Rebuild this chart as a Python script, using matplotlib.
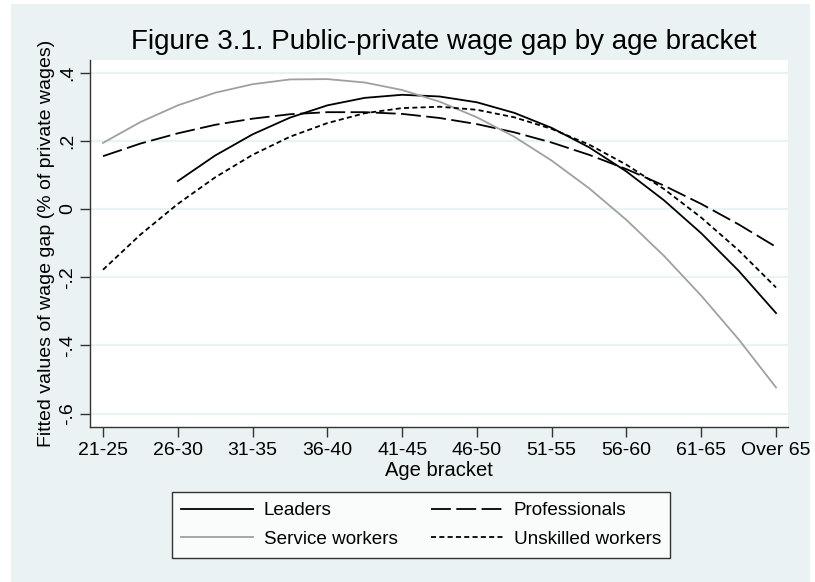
import numpy as np
import matplotlib
matplotlib.use("Agg")
import matplotlib.pyplot as plt
from matplotlib.patches import Rectangle

plt.rcParams['font.family'] = ['Liberation Sans', 'DejaVu Sans']

age_brackets = ["21-25", "26-30", "31-35", "36-40", "41-45",
                "46-50", "51-55", "56-60", "61-65", "Over 65"]

# fitted values sampled every half bracket, 1 = 21-25 ... 10 = Over 65
pos = np.arange(1, 10.01, 0.5)
leaders = [np.nan, np.nan, 0.082, 0.157, 0.219, 0.268, 0.304, 0.326, 0.335, 0.330,
           0.313, 0.282, 0.238, 0.181, 0.110, 0.026, -0.071, -0.181, -0.305]
professionals = [0.155, 0.192, 0.222, 0.247, 0.265, 0.278, 0.284, 0.284, 0.279, 0.267,
                 0.249, 0.225, 0.195, 0.159, 0.117, 0.069, 0.015, -0.045, -0.111]
service = [0.194, 0.255, 0.304, 0.341, 0.366, 0.380, 0.381, 0.371, 0.349, 0.315,
           0.269, 0.212, 0.142, 0.061, -0.032, -0.137, -0.254, -0.382, -0.523]
unskilled = [-0.178, -0.075, 0.015, 0.093, 0.159, 0.212, 0.252, 0.281, 0.296, 0.300,
             0.291, 0.269, 0.235, 0.189, 0.130, 0.059, -0.025, -0.121, -0.230]

y_ticks = [-0.6, -0.4, -0.2, 0, 0.2, 0.4]
y_ticklabels = ["-.6", "-.4", "-.2", "0", ".2", ".4"]

bg = "#EAF2F3"
W, H = 815, 582

fig = plt.figure(figsize=(W / 100, H / 100), dpi=100, facecolor="white")
fig.patches.append(Rectangle((11 / W, 0), (810 - 11) / W, (H - 4) / H,
                             transform=fig.transFigure, facecolor=bg,
                             edgecolor="none", zorder=-10))

ax = fig.add_axes([90 / W, 1 - 427 / H, (788 - 90) / W, (427 - 60) / H])
ax.set_facecolor("white")

lw = 1.3
l1, = ax.plot(pos, leaders, color="black", lw=lw, label="Leaders")
l2, = ax.plot(pos, professionals, color="black", lw=lw, dashes=(11, 3), label="Professionals")
l3, = ax.plot(pos, service, color="#A0A0A0", lw=lw, label="Service workers")
l4, = ax.plot(pos, unskilled, color="black", lw=lw, dashes=(2.8, 1.8), label="Unskilled workers")

ax.set_xlim(0.826, 10.16)
ax.set_ylim(-0.639, 0.437)

ax.set_xticks(np.arange(1, len(age_brackets) + 1))
ax.set_xticklabels(age_brackets, fontsize=14)
ax.set_yticks(y_ticks)
ax.set_yticklabels(y_ticklabels, fontsize=14, rotation=90, va="center")
ax.tick_params(axis="both", direction="out", length=7, width=1, color="#333333")
ax.tick_params(axis="x", pad=4)
ax.tick_params(axis="y", pad=3)

ax.grid(axis="y", color=bg, lw=1.6)
ax.set_axisbelow(True)
for side in ["top", "right"]:
    ax.spines[side].set_visible(False)
for side in ["left", "bottom"]:
    ax.spines[side].set_color("#333333")
    ax.spines[side].set_linewidth(1)

ax.set_xlabel("Age bracket", fontsize=14.5, labelpad=1)
ax.set_ylabel("Fitted values of wage gap (% of private wages)", fontsize=14, labelpad=3)

fig.suptitle("Figure 3.1. Public-private wage gap by age bracket",
             x=444 / W, y=1 - 42 / H, va="center", fontsize=20)

# column-wise fill, so order gives rows Leaders/Professionals, Service/Unskilled
leg = fig.legend([l1, l3, l2, l4],
                 ["Leaders", "Service workers", "Professionals", "Unskilled workers"],
                 loc="center", bbox_to_anchor=(421 / W, 1 - 525 / H), ncol=2,
                 fontsize=13.6, handlelength=3.8, handletextpad=0.58, columnspacing=1.75,
                 frameon=True, fancybox=False, edgecolor="black",
                 borderpad=0.5, labelspacing=0.62)
leg.get_frame().set_linewidth(1)

fig.savefig("out.png", dpi=100, facecolor="white")
